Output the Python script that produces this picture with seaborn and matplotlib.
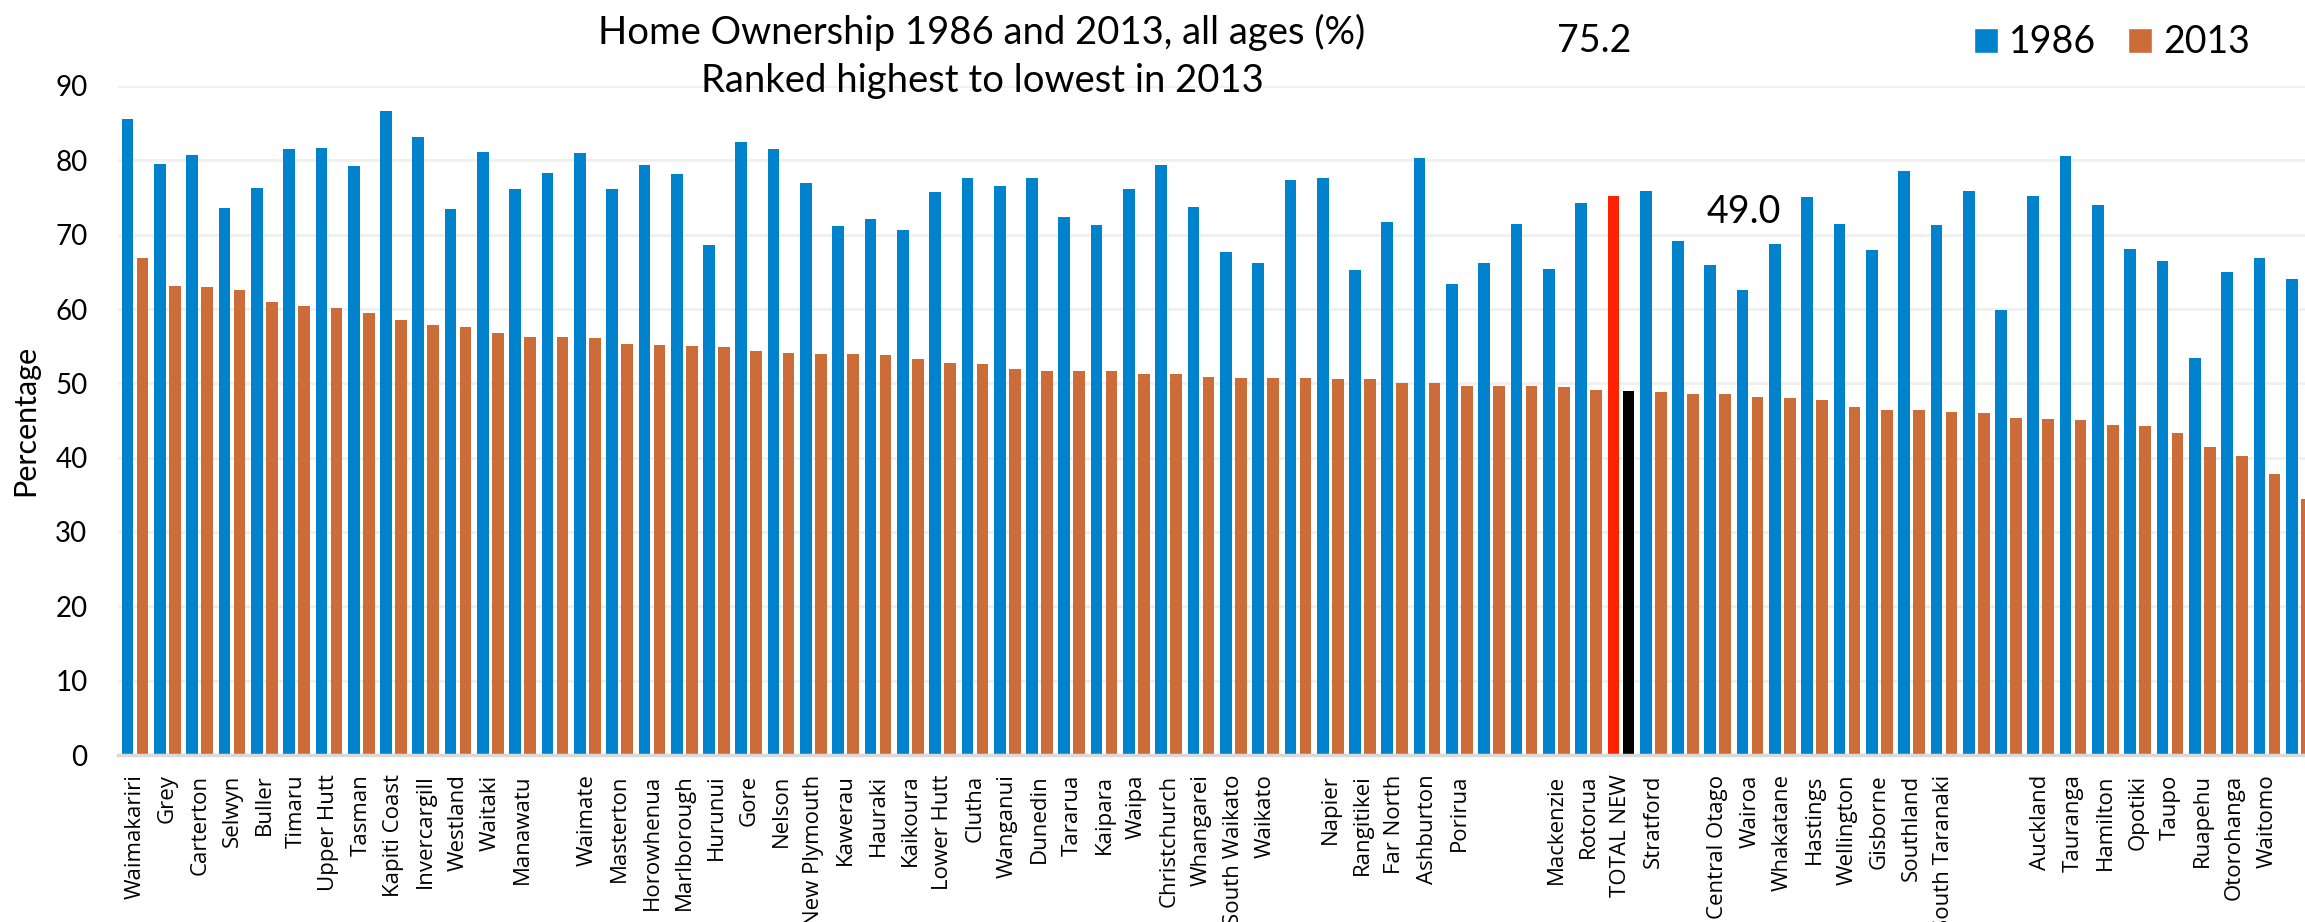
import numpy as np
import pandas as pd
import matplotlib
matplotlib.use("Agg")
import matplotlib.pyplot as plt
import seaborn as sns
from matplotlib.patches import Patch

### DATA ###
# blank names are bars that carry no label in the original chart
districts = ["Waimakariri", "Grey", "Carterton", "Selwyn", "Buller", "Timaru",
             "Upper Hutt", "Tasman", "Kapiti Coast", "Invercargill", "Westland",
             "Waitaki", "Manawatu", "", "Waimate", "Masterton", "Horowhenua",
             "Marlborough", "Hurunui", "Gore", "Nelson", "New Plymouth", "Kawerau",
             "Hauraki", "Kaikoura", "Lower Hutt", "Clutha", "Wanganui", "Dunedin",
             "Tararua", "Kaipara", "Waipa", "Christchurch", "Whangarei",
             "South Waikato", "Waikato", "", "Napier", "Rangitikei", "Far North",
             "Ashburton", "Porirua", "", "", "Mackenzie", "Rotorua", "TOTAL NEW",
             "Stratford", "", "Central Otago", "Wairoa", "Whakatane", "Hastings",
             "Wellington", "Gisborne", "Southland", "South Taranaki", "", "",
             "Auckland", "Tauranga", "Hamilton", "Opotiki", "Taupo", "Ruapehu",
             "Otorohanga", "Waitomo", ""]

own_1986 = [85.6, 79.5, 80.7, 73.6, 76.3, 81.5, 81.6, 79.2, 86.6, 83.1, 73.4,
            81.1, 76.2, 78.3, 81.0, 76.1, 79.4, 78.2, 68.6, 82.5, 81.5, 76.9, 71.1,
            72.1, 70.6, 75.7, 77.6, 76.6, 77.6, 72.4, 71.3, 76.1, 79.4, 73.7,
            67.7, 66.2, 77.3, 77.6, 65.3, 71.7, 80.3, 63.4, 66.2, 71.5, 65.4, 74.3,
            75.2, 75.9, 69.2, 65.9, 62.5, 68.8, 75.1, 71.4, 67.9, 78.5, 71.3, 75.9,
            59.9, 75.2, 80.6, 74.0, 68.1, 66.5, 53.4, 65.0, 66.8, 64.1]

own_2013 = [66.8, 63.1, 62.9, 62.6, 61.0, 60.4, 60.2, 59.4, 58.5, 57.8, 57.6,
            56.8, 56.2, 56.2, 56.1, 55.3, 55.2, 55.0, 54.9, 54.3, 54.1, 53.9, 53.9,
            53.8, 53.3, 52.7, 52.6, 51.9, 51.7, 51.6, 51.6, 51.2, 51.2, 50.8,
            50.7, 50.7, 50.7, 50.6, 50.6, 50.0, 50.0, 49.7, 49.7, 49.7, 49.5, 49.1,
            49.0, 48.8, 48.6, 48.5, 48.1, 48.0, 47.8, 46.8, 46.4, 46.4, 46.1, 46.0,
            45.4, 45.2, 45.0, 44.4, 44.2, 43.3, 41.5, 40.2, 37.8, 34.5]

years = ["1986", "2013"]
n = len(districts)
total_idx = districts.index("TOTAL NEW")

df = pd.DataFrame({"idx": np.tile(np.arange(n), 2),
                   "year": np.repeat(years, n),
                   "pct": own_1986 + own_2013})

blue = "#0083CC"
orange = "#CC6C38"

sns.set_theme(style="white")
plt.rcParams["font.family"] = ["Lato", "DejaVu Sans"]
for k in ["text.color", "axes.labelcolor", "xtick.color", "ytick.color"]:
    plt.rcParams[k] = "black"

fig = plt.figure(figsize=(23.05, 9.22))
ax = fig.add_axes([118/2305, 1-755/922, (2305-118)/2305, (755-86)/922])

sns.barplot(data=df, x="idx", y="pct", hue="year", hue_order=years,
            palette=[blue, orange], width=0.93, gap=0.22, saturation=1,
            errorbar=None, legend=False, linewidth=0, ax=ax)

#! highlight the national total
ax.containers[0][total_idx].set_facecolor("#FF2200")
ax.containers[1][total_idx].set_facecolor("black")

ax.set_xlim(-0.53, 67.18)
ax.set_ylim(0, 90)
ax.set_yticks(range(0, 91, 10))
ax.tick_params(axis="y", length=0, pad=22, labelsize=20)
ax.set_xticks(range(n))
ax.set_xticklabels(districts, rotation=90, fontsize=16, family=["Open Sans", "DejaVu Sans"])
ax.tick_params(axis="x", length=0, pad=14)
ax.set_xlabel("")
ax.set_ylabel("Percentage", fontsize=22)
ax.yaxis.set_label_coords(-0.036, 0.5)

ax.yaxis.grid(True, color="#f0f0f0", linewidth=2)
ax.set_axisbelow(True)
for s in ["left", "right", "top"]:
    ax.spines[s].set_visible(False)
ax.spines["bottom"].set_color("#d9d9d9")
ax.spines["bottom"].set_linewidth(2.5)

#! value labels for the total
ax.text(total_idx - 0.83, 96, f"{own_1986[total_idx]:.1f}", fontsize=27,
        ha="center", va="center", clip_on=False)
ax.text(total_idx + 3.8, 73.0, f"{own_2013[total_idx]:.1f}", fontsize=27,
        ha="center", va="center")

#! titles
fig.text(0.426, 1-32/922, "Home Ownership 1986 and 2013, all ages (%)",
         fontsize=27.5, ha="center", va="center")
fig.text(0.426, 1-81/922, "Ranked highest to lowest in 2013",
         fontsize=27.5, ha="center", va="center")

handles = [Patch(facecolor=blue), Patch(facecolor=orange)]
fig.legend(handles, years, loc="center left", bbox_to_anchor=(0.8564, 0.954),
           ncol=2, frameon=False, fontsize=27, handlelength=0.64, handleheight=0.64,
           handletextpad=0.3, columnspacing=0.85, borderpad=0, borderaxespad=0)

fig.savefig("out.png", dpi=100)
